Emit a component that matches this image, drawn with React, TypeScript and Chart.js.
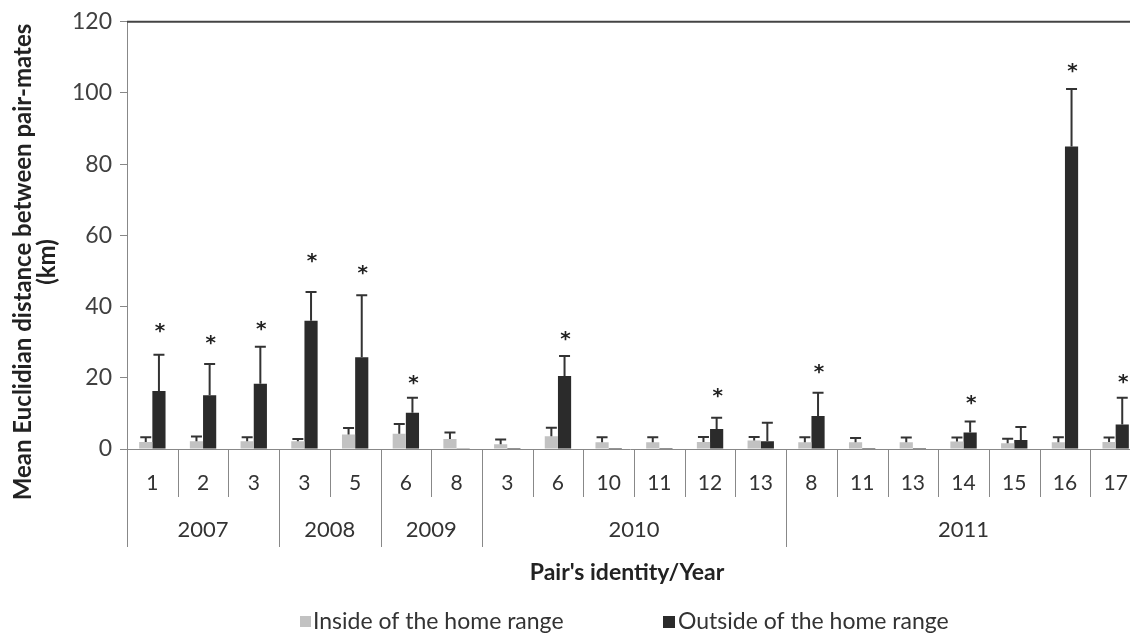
import React, { useEffect, useRef } from "react";
import { Chart, registerables } from "chart.js";

Chart.register(...registerables);

const categories = ["1", "2", "3", "3", "5", "6", "8", "3", "6", "10", "11", "12", "13", "8", "11", "13", "14", "15", "16", "17"];
const years = ["2007", "2008", "2009", "2010", "2011"];
const yearSpans = [3, 2, 2, 6, 7];
const insideMeans = [2.0, 2.2, 2.2, 2.2, 4.1, 4.3, 2.8, 1.3, 3.6, 1.9, 1.9, 2.0, 2.4, 1.9, 1.9, 1.9, 2.1, 1.6, 1.9, 2.0];
const insideErr = [1.3, 1.3, 1.1, 0.6, 1.8, 2.7, 1.8, 1.4, 2.4, 1.4, 1.4, 1.4, 1.0, 1.4, 1.2, 1.3, 1.1, 1.3, 1.4, 1.2];
const outsideMeans = [16.3, 15.1, 18.3, 36.0, 25.8, 10.2, 0.2, 0.3, 20.5, 0.3, 0.3, 5.6, 2.2, 9.3, 0.3, 0.3, 4.6, 2.5, 85.0, 6.9];
const outsideErr = [10.2, 8.8, 10.4, 8.1, 17.4, 4.2, 0, 0, 5.6, 0, 0, 3.2, 5.2, 6.5, 0, 0, 3.1, 3.7, 16.1, 7.5];
const starPos: (number | null)[] = [34.0, 30.7, 34.6, 53.6, 50.2, 19.3, null, null, 31.8, null, null, 15.9, null, 22.6, null, null, 13.7, null, 107.2, 19.8];
const yTicks = [0, 20, 40, 60, 80, 100, 120];
const yTitle = ["Mean Euclidian distance between pair-mates", "(km)"];
const xTitle = "Pair's identity/Year";
const seriesNames = ["Inside of the home range", "Outside of the home range"];

const GRAY = "#c2c2c2";
const DARK = "#2b2b2b";
const FONT = "Lato, 'Open Sans', sans-serif";

const decorPlugin = {
  id: "decor",
  afterDatasetsDraw(chart: any) {
    const ctx = chart.ctx;
    const ys = chart.scales.y;
    const errs = [insideErr, outsideErr];
    ctx.save();
    // error bars
    [0, 1].forEach((di) => {
      const meta = chart.getDatasetMeta(di);
      const vals = chart.data.datasets[di].data as number[];
      meta.data.forEach((el: any, i: number) => {
        const e = errs[di][i];
        if (!e) return;
        const yTop = ys.getPixelForValue(vals[i] + e);
        ctx.strokeStyle = "#333";
        ctx.lineWidth = 2;
        ctx.beginPath();
        ctx.moveTo(el.x, el.y);
        ctx.lineTo(el.x, yTop);
        ctx.moveTo(el.x - 5.5, yTop);
        ctx.lineTo(el.x + 5.5, yTop);
        ctx.stroke();
      });
    });
    // stars
    const meta1 = chart.getDatasetMeta(1);
    ctx.fillStyle = "#222";
    ctx.font = "bold 20px 'DejaVu Sans', sans-serif";
    ctx.textAlign = "center";
    ctx.textBaseline = "middle";
    starPos.forEach((v, i) => {
      if (v == null) return;
      const el: any = meta1.data[i];
      ctx.fillText("*", el.x + 1, ys.getPixelForValue(v) + 4);
    });
    ctx.restore();
  },
  afterDraw(chart: any) {
    const ctx = chart.ctx;
    const area = chart.chartArea;
    const xs = chart.scales.x;
    const n = categories.length;
    const w = (area.right - area.left) / n;
    const bx = (k: number) => area.left + k * w;
    ctx.save();
    // top border
    ctx.strokeStyle = "#444";
    ctx.lineWidth = 2;
    ctx.beginPath();
    ctx.moveTo(area.left, area.top);
    ctx.lineTo(area.right, area.top);
    ctx.stroke();
    // baseline
    ctx.strokeStyle = "#888";
    ctx.lineWidth = 1;
    ctx.beginPath();
    ctx.moveTo(area.left - 7, area.bottom + 0.5);
    ctx.lineTo(area.right, area.bottom + 0.5);
    ctx.stroke();
    // separators
    const yearBounds = new Set<number>();
    let acc = 0;
    yearBounds.add(0);
    yearSpans.forEach((s) => {
      acc += s;
      yearBounds.add(acc);
    });
    for (let k = 0; k <= n; k++) {
      const x = Math.round(bx(k)) + 0.5;
      ctx.beginPath();
      ctx.moveTo(x, area.bottom);
      ctx.lineTo(x, yearBounds.has(k) ? area.bottom + 98 : area.bottom + 48);
      ctx.stroke();
    }
    // category labels
    ctx.fillStyle = "#333";
    ctx.font = `21px ${FONT}`;
    ctx.textAlign = "center";
    ctx.textBaseline = "middle";
    categories.forEach((c, i) => {
      ctx.fillText(c, xs.getPixelForValue(i), area.bottom + 34);
    });
    // year labels
    ctx.font = `22px ${FONT}`;
    let start = 0;
    years.forEach((y, i) => {
      const end = start + yearSpans[i];
      ctx.fillText(y, (bx(start) + bx(end)) / 2, area.bottom + 81);
      start = end;
    });
    // x title
    ctx.fillStyle = "#222";
    ctx.font = `bold 23px ${FONT}`;
    ctx.fillText(xTitle, 627, 573);
    // y title
    ctx.save();
    ctx.translate(23, 262);
    ctx.rotate(-Math.PI / 2);
    ctx.font = `bold 24px ${FONT}`;
    ctx.fillText(yTitle[0], 0, 0);
    ctx.fillText(yTitle[1], 0, 24);
    ctx.restore();
    // legend
    ctx.font = `23px ${FONT}`;
    ctx.textAlign = "left";
    ctx.fillStyle = GRAY;
    ctx.fillRect(300, 616, 11, 11);
    ctx.fillStyle = "#333";
    ctx.fillText(seriesNames[0], 313, 622);
    ctx.fillStyle = DARK;
    ctx.fillRect(663, 616, 12, 12);
    ctx.fillStyle = "#333";
    ctx.fillText(seriesNames[1], 678, 622);
    ctx.restore();
  },
};

export default function App() {
  const ref = useRef<HTMLCanvasElement | null>(null);
  useEffect(() => {
    document.body.style.margin = "0";
    document.body.style.overflow = "hidden";
    const chart = new Chart(ref.current as HTMLCanvasElement, {
      type: "bar",
      data: {
        labels: categories,
        datasets: [
          { label: seriesNames[0], data: insideMeans, backgroundColor: GRAY, categoryPercentage: 0.52, barPercentage: 1.0 },
          { label: seriesNames[1], data: outsideMeans, backgroundColor: DARK, categoryPercentage: 0.52, barPercentage: 1.0 },
        ],
      },
      options: {
        responsive: false,
        animation: false,
        layout: { padding: { top: 19, bottom: 188, left: 0, right: 4 } },
        plugins: { legend: { display: false }, tooltip: { enabled: false } },
        scales: {
          x: { display: false, offset: true, grid: { display: false } },
          y: {
            min: 0,
            max: 120,
            afterFit: (s: any) => {
              s.width = 127;
            },
            afterBuildTicks: (s: any) => {
              s.ticks = yTicks.map((v) => ({ value: v }));
            },
            ticks: { color: "#404040", font: { size: 23, family: FONT }, padding: 8 },
            grid: { display: true, drawOnChartArea: false, drawTicks: true, tickLength: 7, color: "#888" },
            border: { display: true, color: "#888", width: 1 },
          },
        },
      },
      plugins: [decorPlugin],
    });
    return () => chart.destroy();
  }, []);
  return (
    <div style={{ position: "fixed", left: 0, top: 0, width: 1145, height: 637, background: "#fff" }}>
      <canvas ref={ref} width={1145} height={637} />
    </div>
  );
}
